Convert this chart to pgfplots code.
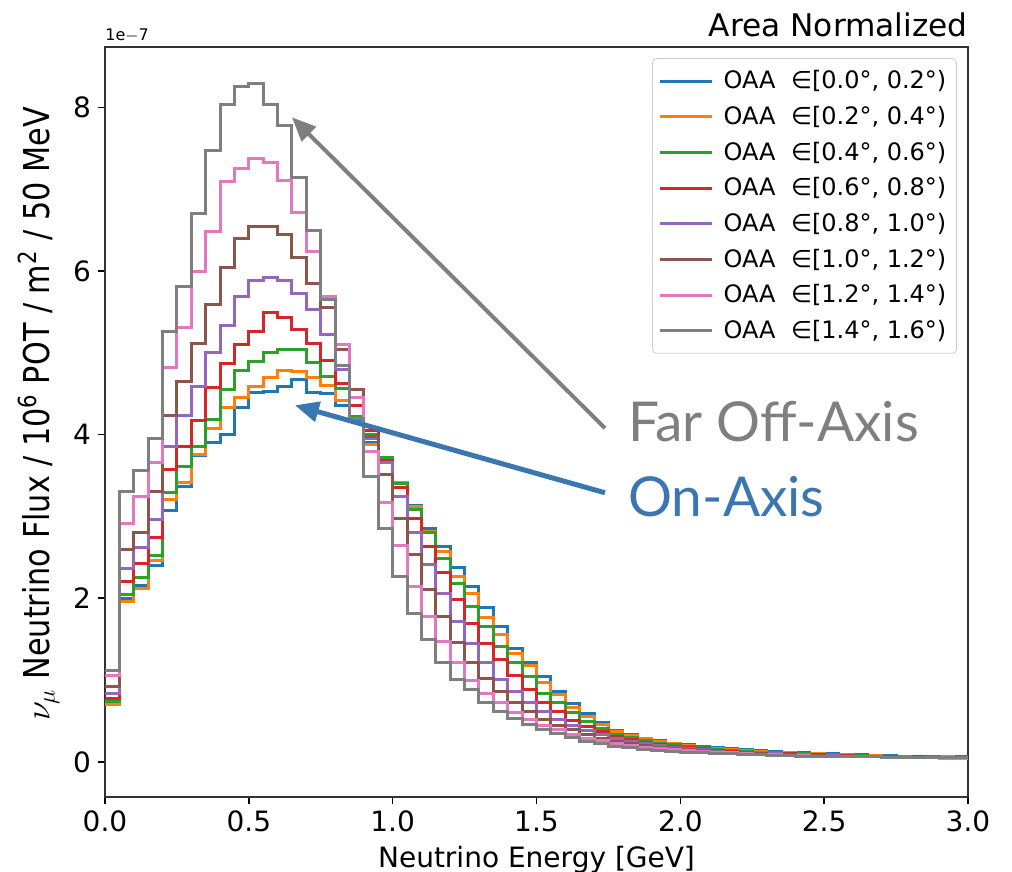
\documentclass[border=0pt]{standalone}
\usepackage{fontspec}
\setmainfont{DejaVu Sans}
\newfontfamily\latofont{Lato}
\newfontfamily\condfont[FakeStretch=0.85]{DejaVu Sans}
\usepackage{pgfplots}
\usepackage{pgfplotstable}
\pgfplotsset{compat=1.18}
\usetikzlibrary{arrows.meta}

\definecolor{tabblue}{HTML}{1F77B4}
\definecolor{taborange}{HTML}{FF7F0E}
\definecolor{tabgreen}{HTML}{2CA02C}
\definecolor{tabred}{HTML}{D62728}
\definecolor{tabpurple}{HTML}{9467BD}
\definecolor{tabbrown}{HTML}{8C564B}
\definecolor{tabpink}{HTML}{E377C2}
\definecolor{tabgray}{HTML}{7F7F7F}
\definecolor{arrowblue}{HTML}{3A76B0}

% flux per 50 MeV bin, in units of 1e-7 (left bin edges, last row closes the step)
\pgfplotstableread{
x    b    o    g    r    p    br   pk   gy
0.00 0.72 0.70 0.74 0.78 0.84 0.92 1.05 1.12
0.05 2.00 1.96 2.05 2.21 2.36 2.60 2.92 3.31
0.10 2.15 2.12 2.25 2.43 2.62 2.81 3.25 3.56
0.15 2.40 2.46 2.52 2.74 2.96 3.30 3.66 3.95
0.20 3.07 3.21 3.29 3.58 3.85 4.24 4.82 5.26
0.25 3.37 3.42 3.61 3.85 4.24 4.65 5.31 5.81
0.30 3.74 3.76 3.85 4.17 4.59 5.12 5.99 6.70
0.35 3.90 4.08 4.19 4.58 5.00 5.59 6.48 7.47
0.40 4.00 4.33 4.55 4.87 5.34 6.05 7.09 8.04
0.45 4.33 4.46 4.79 5.10 5.69 6.40 7.25 8.26
0.50 4.51 4.59 4.89 5.26 5.89 6.54 7.38 8.29
0.55 4.53 4.70 5.00 5.49 5.92 6.54 7.33 8.04
0.60 4.59 4.78 5.04 5.43 5.89 6.45 7.11 7.78
0.65 4.67 4.77 5.04 5.28 5.73 6.17 6.72 7.14
0.70 4.52 4.70 4.88 5.12 5.53 5.85 6.24 6.50
0.75 4.50 4.60 4.71 4.91 5.22 5.55 5.69 5.65
0.80 4.36 4.42 4.57 4.63 4.80 5.04 5.10 4.85
0.85 4.18 4.20 4.22 4.36 4.46 4.55 4.45 4.20
0.90 3.91 3.88 4.00 4.05 3.95 3.98 3.79 3.49
0.95 3.71 3.70 3.72 3.69 3.66 3.51 3.17 2.85
1.00 3.42 3.41 3.40 3.36 3.24 2.97 2.64 2.27
1.05 3.14 3.12 3.08 2.97 2.80 2.54 2.14 1.81
1.10 2.85 2.82 2.80 2.63 2.41 2.11 1.78 1.50
1.15 2.63 2.57 2.49 2.32 2.06 1.78 1.47 1.21
1.20 2.38 2.26 2.18 1.98 1.71 1.46 1.22 1.01
1.25 2.14 2.06 1.90 1.69 1.45 1.21 1.00 0.88
1.30 1.89 1.77 1.65 1.45 1.22 1.02 0.84 0.72
1.35 1.65 1.56 1.41 1.25 1.01 0.86 0.72 0.61
1.40 1.39 1.33 1.21 1.06 0.86 0.73 0.60 0.53
1.45 1.21 1.18 1.04 0.88 0.72 0.62 0.52 0.46
1.50 1.04 0.97 0.84 0.72 0.61 0.52 0.45 0.39
1.55 0.86 0.82 0.72 0.61 0.52 0.45 0.40 0.35
1.60 0.71 0.67 0.60 0.51 0.45 0.39 0.34 0.30
1.65 0.59 0.55 0.49 0.43 0.38 0.34 0.29 0.25
1.70 0.48 0.46 0.41 0.37 0.33 0.29 0.26 0.22
1.75 0.38 0.37 0.34 0.31 0.28 0.25 0.22 0.19
1.80 0.33 0.32 0.30 0.27 0.25 0.22 0.20 0.17
1.85 0.29 0.28 0.26 0.24 0.22 0.20 0.18 0.15
1.90 0.26 0.25 0.23 0.21 0.20 0.18 0.16 0.14
1.95 0.23 0.22 0.21 0.19 0.18 0.16 0.15 0.13
2.00 0.21 0.20 0.19 0.17 0.16 0.15 0.14 0.12
2.05 0.19 0.18 0.17 0.16 0.15 0.14 0.13 0.11
2.10 0.17 0.16 0.15 0.14 0.13 0.12 0.12 0.10
2.15 0.16 0.15 0.14 0.13 0.12 0.11 0.11 0.10
2.20 0.15 0.14 0.13 0.12 0.11 0.11 0.10 0.09
2.25 0.14 0.13 0.12 0.11 0.11 0.10 0.09 0.09
2.30 0.13 0.12 0.11 0.10 0.10 0.09 0.09 0.08
2.35 0.12 0.11 0.10 0.10 0.09 0.09 0.08 0.08
2.40 0.11 0.10 0.10 0.09 0.09 0.08 0.08 0.07
2.45 0.10 0.10 0.09 0.09 0.08 0.08 0.07 0.07
2.50 0.10 0.09 0.09 0.08 0.08 0.07 0.07 0.07
2.55 0.09 0.09 0.08 0.08 0.07 0.07 0.06 0.06
2.60 0.09 0.08 0.08 0.07 0.07 0.06 0.06 0.06
2.65 0.08 0.08 0.07 0.07 0.06 0.06 0.06 0.06
2.70 0.08 0.07 0.07 0.06 0.06 0.06 0.05 0.05
2.75 0.07 0.07 0.06 0.06 0.06 0.05 0.05 0.05
2.80 0.07 0.06 0.06 0.06 0.05 0.05 0.05 0.05
2.85 0.07 0.06 0.06 0.05 0.05 0.05 0.05 0.05
2.90 0.06 0.06 0.05 0.05 0.05 0.05 0.04 0.05
2.95 0.06 0.05 0.05 0.05 0.05 0.04 0.04 0.05
3.00 0.06 0.05 0.05 0.05 0.05 0.04 0.04 0.05
}\fluxtable

\newcommand{\oaa}[2]{OAA\hspace{4pt} ∈[#1°, #2°)}

\begin{document}
\begin{tikzpicture}
\useasboundingbox (-52.5pt,-37.5pt) rectangle (453.5pt,398.5pt);
\begin{axis}[
  scale only axis,
  width=431.5pt, height=375pt,
  xmin=0, xmax=3, ymin=-0.43, ymax=8.74,
  xtick={0,0.5,...,3}, ytick={0,2,4,6,8},
  xticklabel style={/pgf/number format/.cd, fixed, fixed zerofill, precision=1},
  /pgf/number format/assume math mode=true,
  tick label style={font=\fontsize{14}{16}\selectfont},
  tick align=outside, tick pos=left,
  major tick length=3.5pt,
  every tick/.style={black, line width=0.8pt},
  axis line style={black!80, line width=0.8pt},
  xlabel={Neutrino Energy [GeV]},
  xlabel style={font=\fontsize{14}{16}\selectfont},
  ylabel={\condfont\fontsize{17.8}{20}\selectfont $\nu_\mu$ Neutrino Flux / 10\textsuperscript{6} POT / m\textsuperscript{2} / 50 MeV},
  ylabel style={xshift=4pt},
  clip mode=individual,
  legend cell align=left,
  legend style={at={(0.987,0.985)}, anchor=north east, draw=black!20,
    rounded corners=2pt, fill=white, font=\fontsize{12}{14}\selectfont,
    row sep=3.2pt, column sep=3pt, inner xsep=3pt, inner ysep=4pt},
  legend image code/.code={\draw[#1] (0pt,0pt) -- (26pt,0pt);},
  every axis plot/.append style={line width=1.5pt, const plot mark left, no marks},
]
\addplot[tabblue] table[x=x, y=b] {\fluxtable};
\addlegendentry{\oaa{0.0}{0.2}}
\addplot[taborange] table[x=x, y=o] {\fluxtable};
\addlegendentry{\oaa{0.2}{0.4}}
\addplot[tabgreen] table[x=x, y=g] {\fluxtable};
\addlegendentry{\oaa{0.4}{0.6}}
\addplot[tabred] table[x=x, y=r] {\fluxtable};
\addlegendentry{\oaa{0.6}{0.8}}
\addplot[tabpurple] table[x=x, y=p] {\fluxtable};
\addlegendentry{\oaa{0.8}{1.0}}
\addplot[tabbrown] table[x=x, y=br] {\fluxtable};
\addlegendentry{\oaa{1.0}{1.2}}
\addplot[tabpink] table[x=x, y=pk] {\fluxtable};
\addlegendentry{\oaa{1.2}{1.4}}
\addplot[tabgray] table[x=x, y=gy] {\fluxtable};
\addlegendentry{\oaa{1.4}{1.6}}

% annotations
\draw[tabgray, line width=2pt, -{Triangle[length=12pt,width=10pt]}]
  (axis cs:1.738,4.08) -- (axis cs:0.650,7.88);
\draw[arrowblue, line width=2.5pt, -{Triangle[length=12pt,width=10pt]}]
  (axis cs:1.738,3.29) -- (axis cs:0.660,4.36);
\node[anchor=west, text=tabgray, font=\latofont\fontsize{27.5}{30}\selectfont, inner sep=0pt]
  at (axis cs:1.818,4.16) {Far Off-Axis};
\node[anchor=west, text=arrowblue, font=\latofont\fontsize{27.5}{30}\selectfont, inner sep=0pt]
  at (axis cs:1.818,3.24) {On-Axis};
\node[anchor=south east, font=\fontsize{15.6}{18}\selectfont, inner sep=0pt]
  at (rel axis cs:1,1.013) {Area Normalized};
\node[anchor=south west, font=\fontsize{8}{9}\selectfont, inner sep=0pt]
  at (rel axis cs:0,1.006) {1e$-$7};
\end{axis}
\end{tikzpicture}
\end{document}
